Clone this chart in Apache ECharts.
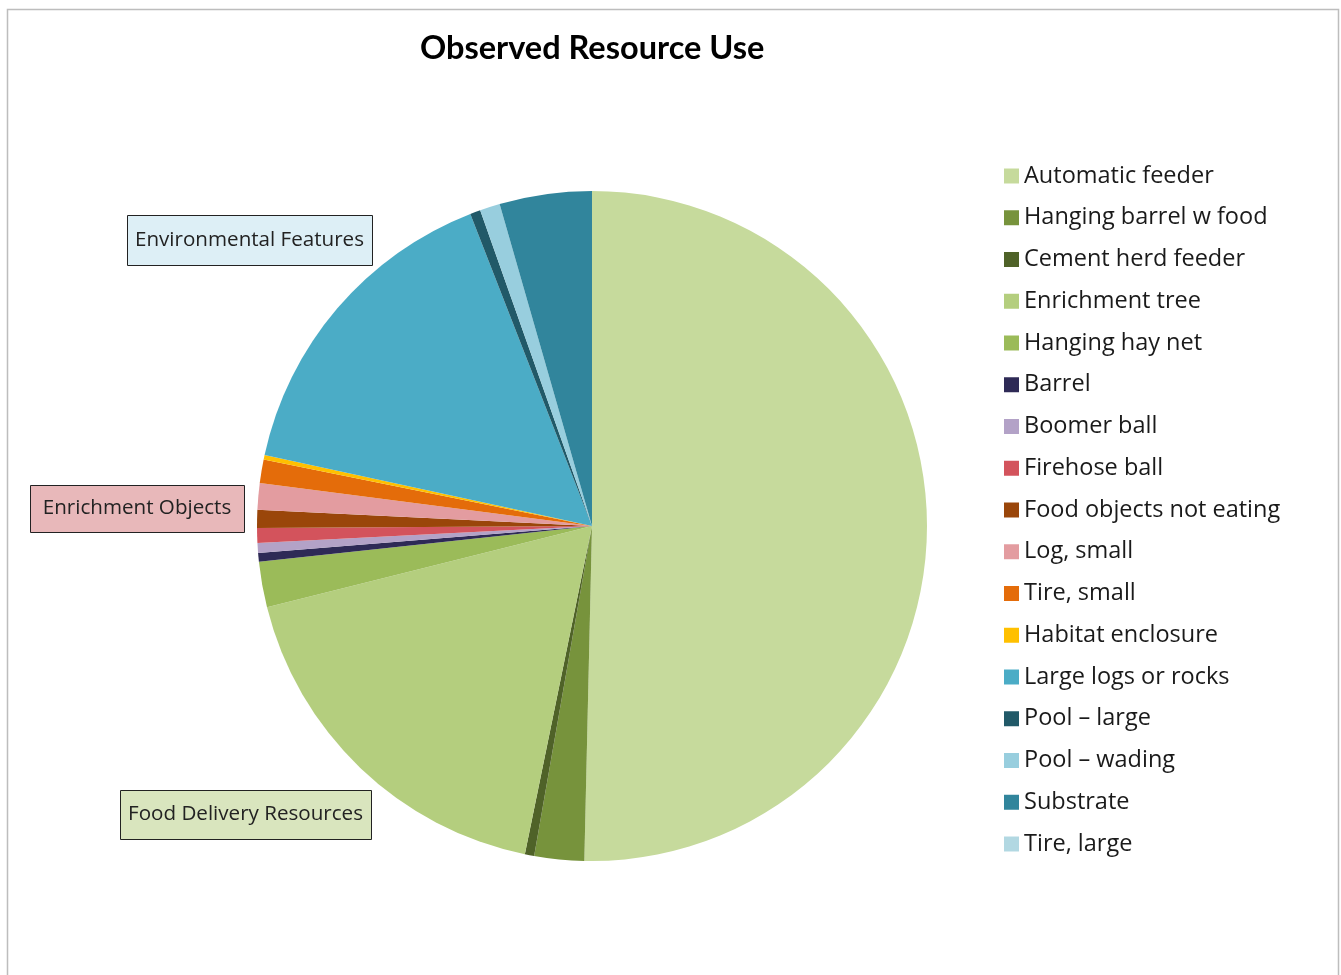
<!DOCTYPE html>
<html>
<head>
<meta charset="utf-8">
<title>Observed Resource Use</title>
<script src="https://cdn.jsdelivr.net/npm/echarts@6/dist/echarts.min.js"></script>
<style>
  html, body { margin: 0; padding: 0; background: #ffffff; }
  #chart { width: 1341px; height: 975px; }
</style>
</head>
<body>
<div id="chart"></div>
<script>
// Share of observations per resource (percent)
const categories = [
  'Automatic feeder', 'Hanging barrel w food', 'Cement herd feeder', 'Enrichment tree',
  'Hanging hay net', 'Barrel', 'Boomer ball', 'Firehose ball', 'Food objects not eating',
  'Log, small', 'Tire, small', 'Habitat enclosure', 'Large logs or rocks',
  'Pool \u2013 large', 'Pool \u2013 wading', 'Substrate', 'Tire, large'
];
const shares = [
  50.4, 2.4, 0.45, 17.9,
  2.2, 0.42, 0.47, 0.72, 0.86,
  1.28, 1.13, 0.22, 15.7,
  0.5, 0.97, 4.45, 0
];
const sliceColors = [
  '#C6DA9C', '#77933C', '#4F6228', '#B4CE7E',
  '#9BBB59', '#2E2A56', '#B3A2C7', '#D3535C', '#9A460A',
  '#E39CA0', '#E46C0A', '#FFC000', '#4BACC6',
  '#215968', '#98CEDE', '#31859C', '#B2D8E2'
];

// Group captions placed beside the pie
const groupLabels = ['Environmental Features', 'Enrichment Objects', 'Food Delivery Resources'];
const groupFills = ['#DDEFF6', '#E8B8BA', '#D9E5BE'];
// caption boxes: [x, y, width, height]
const groupBoxes = [[127, 215, 245, 50], [30, 485, 214, 47], [120, 790, 251, 49]];

const chart = echarts.init(document.getElementById('chart'), null, { renderer: 'canvas' });

const captionGraphics = [];
groupLabels.forEach((label, i) => {
  const [bx, by, bw, bh] = groupBoxes[i];
  captionGraphics.push({
    type: 'rect',
    shape: { x: bx + 0.5, y: by + 0.5, width: bw, height: bh },
    style: { fill: groupFills[i], stroke: '#222222', lineWidth: 1 },
    silent: true,
    z: 10
  });
  captionGraphics.push({
    type: 'text',
    x: bx + bw / 2,
    y: by + bh / 2,
    style: {
      text: label,
      font: '20.6px "Open Sans", sans-serif',
      fill: '#222222',
      textAlign: 'center',
      textVerticalAlign: 'middle'
    },
    silent: true,
    z: 11
  });
});

chart.setOption({
  backgroundColor: '#ffffff',
  animation: false,
  title: {
    text: 'Observed Resource Use',
    left: 415,
    top: 27,
    textStyle: {
      fontFamily: 'Lato, sans-serif',
      fontWeight: 'bold',
      fontSize: 32.5,
      color: '#000000'
    }
  },
  legend: {
    orient: 'vertical',
    left: 999,
    top: 157,
    icon: 'rect',
    itemWidth: 15,
    itemHeight: 15,
    itemGap: 13.75,
    selectedMode: false,
    data: categories,
    textStyle: {
      fontFamily: '"Open Sans", sans-serif',
      fontSize: 23.5,
      lineHeight: 28,
      color: '#1a1a1a',
      padding: [0, 0, 0, 0]
    }
  },
  graphic: [
    {
      type: 'rect',
      shape: { x: 7.5, y: 9.5, width: 1331, height: 1100 },
      style: { fill: 'none', stroke: '#BDBDBD', lineWidth: 1.5 },
      silent: true,
      z: 0
    }
  ].concat(captionGraphics),
  series: [{
    type: 'pie',
    center: [592, 526],
    radius: [0, 335],
    startAngle: 90,
    clockwise: true,
    avoidLabelOverlap: false,
    label: { show: false },
    labelLine: { show: false },
    emphasis: { disabled: true },
    itemStyle: { borderWidth: 0 },
    data: categories.map((name, i) => ({
      name: name,
      value: shares[i],
      itemStyle: { color: sliceColors[i] }
    }))
  }]
});
</script>
</body>
</html>
